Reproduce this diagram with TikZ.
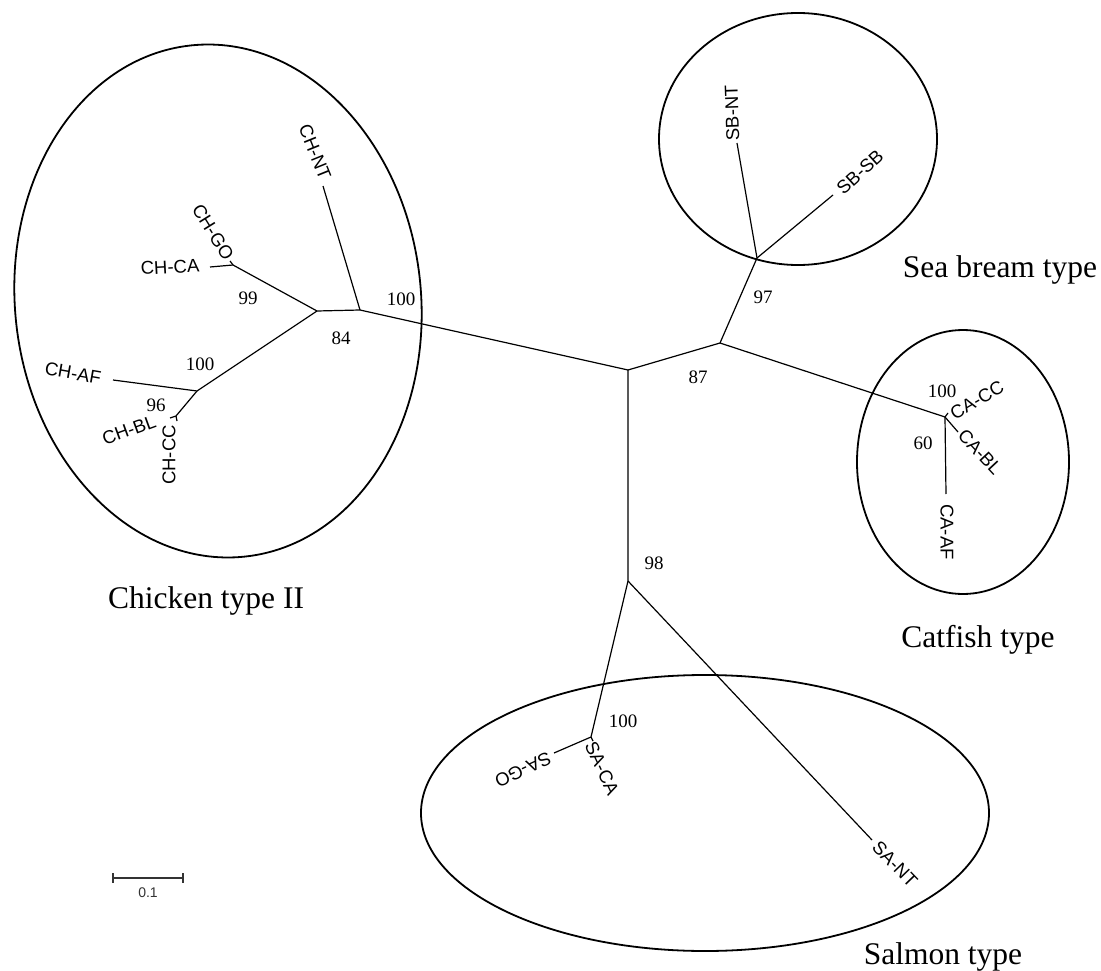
\documentclass[tikz,border=0pt]{standalone}
\usepackage{fontspec}
\setmainfont{Liberation Serif}
\setsansfont{Liberation Sans}
\begin{document}
\begin{tikzpicture}[x=1pt,y=-1pt,
  branch/.style={line width=1.2pt},
  clade/.style={line width=1.8pt},
  leaflabel/.style={font=\sffamily\fontsize{18.5}{20}\selectfont, inner sep=0pt},
  boot/.style={font=\fontsize{19}{20}\selectfont, inner sep=0pt, anchor=base},
  group/.style={font=\fontsize{31.5}{34}\selectfont, inner sep=0pt, anchor=base},
  scalebar/.style={line width=1.8pt, draw=black!80}]
\useasboundingbox (0,0) rectangle (1101,971);

% internal nodes of the tree
\coordinate (R)   at (628,370);
\coordinate (A)   at (360,310);
\coordinate (B)   at (317,311);
\coordinate (J1)  at (233,265);
\coordinate (C)   at (197,391);
\coordinate (D)   at (176,416);
\coordinate (E)   at (720,343);
\coordinate (JSB) at (757,258);
\coordinate (JCA) at (945,417);
\coordinate (S)   at (628,581);
\coordinate (JSA) at (591,737);

% leaf tips
\coordinate (chnt) at (323,186);
\coordinate (chca) at (210,267);
\coordinate (chgo) at (230,261);
\coordinate (chaf) at (113,380);
\coordinate (chbl) at (170,418);
\coordinate (chcc) at (177,421);
\coordinate (sbnt) at (737,143);
\coordinate (sbsb) at (833,195);
\coordinate (cacc) at (948,413);
\coordinate (cabl) at (958,432);
\coordinate (caaf) at (946,494);
\coordinate (sago) at (554,753);
\coordinate (saca) at (593,741);
\coordinate (sant) at (872,840);

% branches
\draw[branch] (R) -- (A) -- (B) -- (J1) -- (chca);
\draw[branch] (J1) -- (chgo);
\draw[branch] (A) -- (chnt);
\draw[branch] (B) -- (C) -- (chaf);
\draw[branch] (C) -- (D) -- (chbl);
\draw[branch] (D) -- (chcc);
\draw[branch] (R) -- (E) -- (JSB) -- (sbnt);
\draw[branch] (JSB) -- (sbsb);
\draw[branch] (E) -- (JCA) -- (caaf);
\draw[branch] (JCA) -- (cacc);
\draw[branch] (JCA) -- (cabl);
\draw[branch] (R) -- (S) -- (JSA) -- (sago);
\draw[branch] (JSA) -- (saca);
\draw[branch] (S) -- (sant);

% clade outlines
\draw[clade, rotate around={6:(218,301)}] (218,301) ellipse [x radius=203, y radius=257];
\draw[clade] (798,139) ellipse [x radius=139, y radius=126];
\draw[clade] (963,462) ellipse [x radius=106, y radius=132];
\draw[clade] (705,813) ellipse [x radius=284, y radius=138];

% leaf names
\node[leaflabel, rotate=-68]  (lchnt) at (315,152) {CH-NT};
\node[leaflabel, rotate=-58]  (lchgo) at (213,232) {CH-GO};
\node[leaflabel, rotate=3]    (lchca) at (170,267) {CH-CA};
\node[leaflabel, rotate=-10]  (lchaf) at (73,373)  {CH-AF};
\node[leaflabel, rotate=20]   (lchbl) at (129,430) {CH-BL};
\node[leaflabel, rotate=90]   (lchcc) at (169,455) {CH-CC};
\node[leaflabel, rotate=92]   (lsbnt) at (732,113) {SB-NT};
\node[leaflabel, rotate=42]   (lsbsb) at (860,172) {SB-SB};
\node[leaflabel, rotate=30]   (lcacc) at (977,400) {CA-CC};
\node[leaflabel, rotate=-47]  (lcabl) at (980,452) {CA-BL};
\node[leaflabel, rotate=-90]  (lcaaf) at (947,532) {CA-AF};
\node[leaflabel, rotate=-155] (lsago) at (523,770) {SA-GO};
\node[leaflabel, rotate=-65]  (lsaca) at (602,768) {SA-CA};
\node[leaflabel, rotate=-46]  (lsant) at (895,864) {SA-NT};

% bootstrap values
\node[boot] (bA)   at (401,305) {100};
\node[boot] (bB)   at (341,344) {84};
\node[boot] (bJ1)  at (248,304) {99};
\node[boot] (bC)   at (200,370) {100};
\node[boot] (bD)   at (156,411) {96};
\node[boot] (bE)   at (698,383) {87};
\node[boot] (bSB)  at (763,303) {97};
\node[boot] (bS)   at (654,569) {98};
\node[boot] (bCA)  at (942,397) {100};
\node[boot] (bCA2) at (923,449) {60};
\node[boot] (bSA)  at (623,727) {100};

% group names
\node[group] (gch) at (206,608) {Chicken type II};
\node[group] (gsb) at (1000,277) {Sea bream type};
\node[group] (gca) at (978,647) {Catfish type};
\node[group] (gsa) at (943,964) {Salmon type};

% scale bar
\coordinate (s0) at (113,878);
\coordinate (s1) at (183,878);
\draw[scalebar] (s0) -- (s1);
\draw[scalebar, line width=1.2pt] ([yshift=5pt]s0) -- ([yshift=-5pt]s0);
\draw[scalebar, line width=1.2pt] ([yshift=5pt]s1) -- ([yshift=-5pt]s1);
\node[font=\sffamily\fontsize{14}{15}\selectfont, inner sep=0pt, text=black!80] (sl) at (148,893) {0.1};
\end{tikzpicture}
\end{document}
